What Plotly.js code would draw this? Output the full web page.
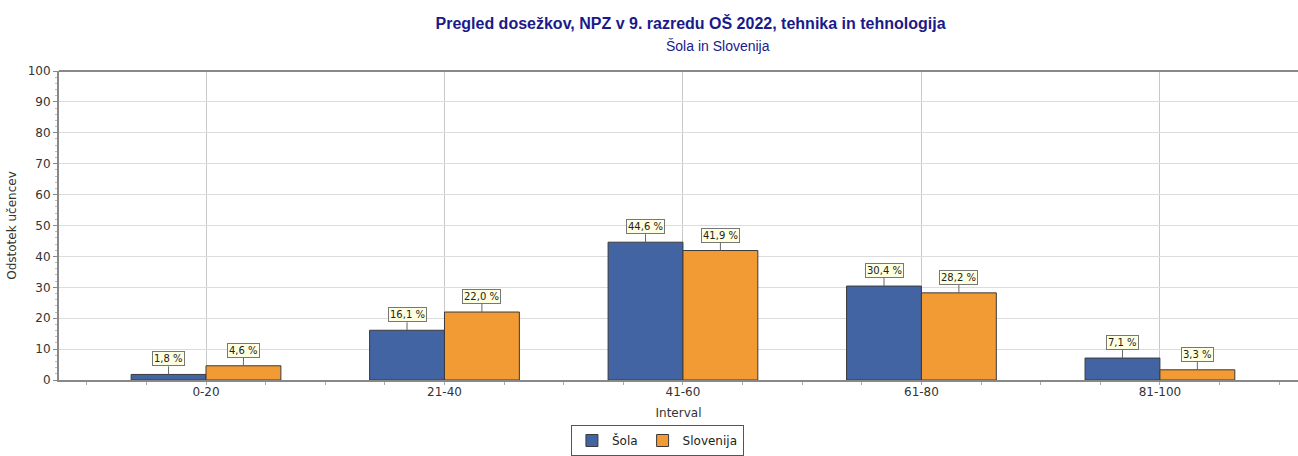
<!DOCTYPE html>
<html>
<head>
<meta charset="utf-8">
<script src="https://cdn.plot.ly/plotly-3.0.1.min.js"></script>
<style>html,body{margin:0;padding:0;background:#fff;overflow:hidden}#chart{width:1298px;height:456px}</style>
</head>
<body>
<div id="chart"></div>
<script>
const categories = ['0-20', '21-40', '41-60', '61-80', '81-100'];
const solaValues = [1.8, 16.1, 44.6, 30.4, 7.1];
const slovenijaValues = [4.6, 22.0, 41.9, 28.2, 3.3];
const seriesNames = ['Šola', 'Slovenija'];
const yTicks = [0, 10, 20, 30, 40, 50, 60, 70, 80, 90, 100];

const xIdx = categories.map((c, i) => i);
const barW = 0.314;
const fmt = v => v.toFixed(1).replace('.', ',') + ' %';

const traces = [
  {type: 'bar', name: seriesNames[0], x: xIdx, y: solaValues, offset: -barW, width: barW,
   marker: {color: '#4364a2', line: {color: '#3a3a3a', width: 1}}, hoverinfo: 'none'},
  {type: 'bar', name: seriesNames[1], x: xIdx, y: slovenijaValues, offset: 0, width: barW,
   marker: {color: '#f29b34', line: {color: '#3a3a3a', width: 1}}, hoverinfo: 'none'}
];

const annotations = [];
const mk = (x, v) => ({
  x: x, y: v, xref: 'x', yref: 'y', text: fmt(v), showarrow: true,
  arrowhead: 0, arrowwidth: 1, arrowcolor: '#666', ax: 0, ay: -8, standoff: 0,
  bgcolor: '#ffffe1', bordercolor: '#777', borderwidth: 1, borderpad: 1,
  yanchor: 'bottom', font: {family: 'DejaVu Sans, Verdana, sans-serif', size: 10, color: '#222'}
});
xIdx.forEach(i => {
  annotations.push(mk(i - barW / 2, solaValues[i]));
  annotations.push(mk(i + barW / 2, slovenijaValues[i]));
});
annotations.push({
  text: 'Šola in Slovenija', xref: 'paper', yref: 'paper', x: 0.532, y: 1, yshift: 25,
  yanchor: 'middle', showarrow: false,
  font: {family: 'Liberation Sans, Arial, sans-serif', size: 14, color: '#1a1a8a'}
});

const layout = {
  width: 1298, height: 456,
  margin: {l: 59, r: 0, t: 71, b: 76, autoexpand: false},
  paper_bgcolor: '#fff', plot_bgcolor: '#fff',
  title: {text: '<b>Pregled dosežkov, NPZ v 9. razredu OŠ 2022, tehnika in tehnologija</b>',
          x: 0.532, xanchor: 'center', y: 0.948, yanchor: 'middle',
          font: {family: 'Liberation Sans, Arial, sans-serif', size: 16, color: '#1a1a8a'}},
  barmode: 'overlay',
  showlegend: true,
  legend: {orientation: 'h', x: 0.483, xanchor: 'center', yref: 'container', y: 0.0, yanchor: 'bottom',
           bordercolor: '#555', borderwidth: 1, bgcolor: '#fff',
           font: {family: 'DejaVu Sans, Verdana, sans-serif', size: 12, color: '#222'},
           itemwidth: 30, tracegroupgap: 0},
  xaxis: {
    range: [-0.6164, 4.579], tickmode: 'array', tickvals: xIdx, ticktext: categories,
    showgrid: true, gridcolor: '#c8c8c8', gridwidth: 1, zeroline: false,
    showline: true, linecolor: '#888', linewidth: 2, mirror: false,
    ticks: '', ticklen: 0,
    minor: {dtick: 0.25, tick0: 0, ticks: 'outside', ticklen: 3, tickcolor: '#aaa', showgrid: false},
    tickfont: {family: 'DejaVu Sans, Verdana, sans-serif', size: 12, color: '#333'},
    title: {text: 'Interval', standoff: 10, font: {family: 'DejaVu Sans, Verdana, sans-serif', size: 12, color: '#333'}},
    automargin: false, fixedrange: true
  },
  yaxis: {
    range: [0, 100], tickmode: 'array', tickvals: yTicks,
    showgrid: true, gridcolor: '#dcdcdc', gridwidth: 1, zeroline: false,
    showline: true, linecolor: '#888', linewidth: 2,
    ticks: 'outside', ticklen: 4, tickcolor: '#888',
    minor: {dtick: 2, ticks: 'outside', ticklen: 2, tickcolor: '#bbb', showgrid: false},
    tickfont: {family: 'DejaVu Sans, Verdana, sans-serif', size: 12, color: '#333'},
    title: {text: 'Odstotek učencev', standoff: 8, font: {family: 'DejaVu Sans, Verdana, sans-serif', size: 12, color: '#333'}},
    automargin: false, fixedrange: true
  },
  shapes: [
    {type: 'line', xref: 'paper', yref: 'paper', x0: 0, x1: 1, y0: 1, y1: 1, line: {color: '#888', width: 2}}
  ],
  annotations: annotations
};

Plotly.newPlot('chart', traces, layout, {displayModeBar: false, staticPlot: true});
</script>
</body>
</html>
